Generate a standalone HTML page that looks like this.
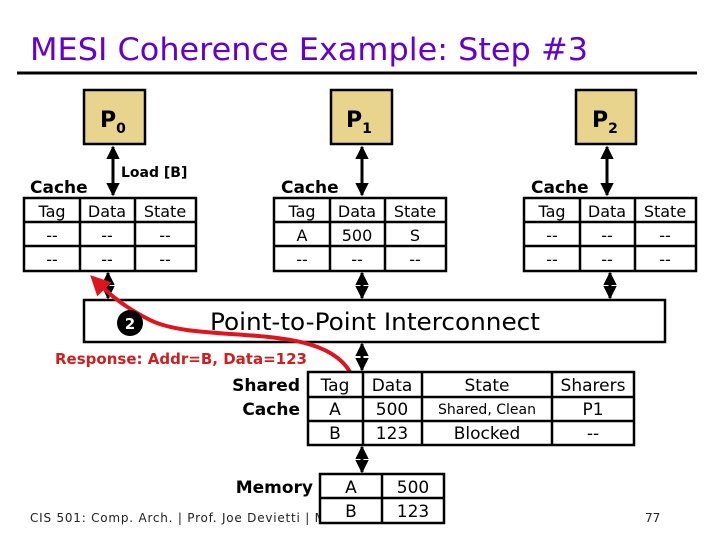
<!DOCTYPE html>
<html><head><meta charset="utf-8"><style>
html,body{margin:0;padding:0;background:#fff;}
svg{display:block;}
text{font-family:"DejaVu Sans","Liberation Sans",sans-serif;}
.b{font-weight:bold;}
</style></head><body>
<svg width="720" height="540" viewBox="0 0 720 540" xmlns="http://www.w3.org/2000/svg">
<defs>
<marker id="ah" viewBox="0 0 10 10" refX="9" refY="5" markerWidth="4.5" markerHeight="4.5" orient="auto-start-reverse"><path d="M0,0 L10,5 L0,10 z" fill="#000"/></marker>
<marker id="rh" viewBox="0 0 10 10" refX="8" refY="5" markerWidth="5" markerHeight="5" orient="auto"><path d="M0,0 L10,5 L0,10 z" fill="#e0141e"/></marker>
</defs>
<text x="30" y="60" font-size="31" fill="#6600cc" font-family="DejaVu Sans Condensed, DejaVu Sans, sans-serif" textLength="558" lengthAdjust="spacingAndGlyphs">MESI Coherence Example: Step #3</text>
<line x1="17" y1="73" x2="697" y2="73" stroke="#000" stroke-width="3"/>
<text x="30" y="522" font-size="12" fill="#222" textLength="295" lengthAdjust="spacing">CIS 501: Comp. Arch.  |  Prof. Joe Devietti  |  M</text>
<text x="645" y="522" font-size="12" fill="#222">77</text>

<!-- processors -->
<g stroke="#000" stroke-width="2.5" fill="#e8d48c">
<rect x="84" y="90" width="61" height="54"/>
<rect x="331" y="90" width="61" height="54"/>
<rect x="576" y="90" width="60" height="54"/>
</g>
<g class="b" font-size="22"><text x="100" y="127">P<tspan font-size="14" dy="6">0</tspan></text>
<text x="346" y="127">P<tspan font-size="14" dy="6">1</tspan></text>
<text x="592" y="127">P<tspan font-size="14" dy="6">2</tspan></text></g>

<g stroke="#000" stroke-width="3" marker-start="url(#ah)" marker-end="url(#ah)">
<line x1="113" y1="147" x2="113" y2="195"/>
<line x1="362" y1="147" x2="362" y2="195"/>
<line x1="607" y1="147" x2="607" y2="195"/>
<line x1="108" y1="273" x2="108" y2="298"/>
<line x1="362" y1="273" x2="362" y2="298"/>
<line x1="610" y1="273" x2="610" y2="298"/>
<line x1="362" y1="344" x2="362" y2="370"/>
<line x1="362" y1="447" x2="362" y2="472"/>
</g>
<text x="121" y="177" class="b" font-size="14">Load [B]</text>

<!-- caches -->
<g font-size="17" class="b"><text x="30" y="193">Cache</text><text x="281" y="193">Cache</text><text x="531" y="193">Cache</text></g>
<g stroke="#000" stroke-width="2.5" fill="none">
<rect x="24" y="198" width="172" height="73"/><line x1="24" y1="222" x2="196" y2="222"/><line x1="24" y1="246" x2="196" y2="246"/><line x1="80" y1="198" x2="80" y2="271"/><line x1="135" y1="198" x2="135" y2="271"/>
<rect x="274" y="198" width="172" height="73"/><line x1="274" y1="222" x2="446" y2="222"/><line x1="274" y1="246" x2="446" y2="246"/><line x1="330" y1="198" x2="330" y2="271"/><line x1="385" y1="198" x2="385" y2="271"/>
<rect x="524" y="198" width="172" height="73"/><line x1="524" y1="222" x2="696" y2="222"/><line x1="524" y1="246" x2="696" y2="246"/><line x1="580" y1="198" x2="580" y2="271"/><line x1="635" y1="198" x2="635" y2="271"/>
</g>
<g font-size="16" text-anchor="middle">
<text x="52" y="217">Tag</text><text x="107" y="217">Data</text><text x="165" y="217">State</text>
<text x="52" y="241">--</text><text x="107" y="241">--</text><text x="165" y="241">--</text>
<text x="52" y="265">--</text><text x="107" y="265">--</text><text x="165" y="265">--</text>
<text x="302" y="217">Tag</text><text x="357" y="217">Data</text><text x="415" y="217">State</text>
<text x="302" y="241">A</text><text x="357" y="241">500</text><text x="415" y="241">S</text>
<text x="302" y="265">--</text><text x="357" y="265">--</text><text x="415" y="265">--</text>
<text x="552" y="217">Tag</text><text x="607" y="217">Data</text><text x="665" y="217">State</text>
<text x="552" y="241">--</text><text x="607" y="241">--</text><text x="665" y="241">--</text>
<text x="552" y="265">--</text><text x="607" y="265">--</text><text x="665" y="265">--</text>
</g>

<!-- interconnect -->
<rect x="84" y="300" width="581" height="42" fill="#fff" stroke="#000" stroke-width="2.5"/>
<text x="210" y="330" font-size="24" font-family="Liberation Sans, sans-serif" textLength="330" lengthAdjust="spacingAndGlyphs">Point-to-Point Interconnect</text>

<!-- red curve -->
<path d="M350,372 C320,320 200,345 150,320 C120,305 105,290 93,278" fill="none" stroke="#e0141e" stroke-width="4" marker-end="url(#rh)"/>
<circle cx="130" cy="323" r="13" fill="#000"/>
<text x="130" y="329" fill="#fff" font-size="15" class="b" text-anchor="middle">2</text>
<text x="55" y="364" fill="#d01e1e" class="b" font-size="15" textLength="252" lengthAdjust="spacingAndGlyphs">Response: Addr=B, Data=123</text>

<!-- shared cache -->
<g class="b" font-size="17" text-anchor="end"><text x="300" y="391">Shared</text><text x="300" y="415">Cache</text><text x="313" y="493">Memory</text></g>
<g stroke="#000" stroke-width="2.5" fill="#fff">
<rect x="308" y="372" width="326" height="73"/>
<rect x="320" y="474" width="124" height="49"/>
</g>
<g stroke="#000" stroke-width="2.5">
<line x1="308" y1="397" x2="634" y2="397"/><line x1="308" y1="421" x2="634" y2="421"/>
<line x1="363" y1="372" x2="363" y2="445"/><line x1="422" y1="372" x2="422" y2="445"/><line x1="552" y1="372" x2="552" y2="445"/>
<line x1="320" y1="498" x2="444" y2="498"/><line x1="382" y1="474" x2="382" y2="523"/>
</g>
<g font-size="17" text-anchor="middle">
<text x="335" y="391">Tag</text><text x="392" y="391">Data</text><text x="487" y="391">State</text><text x="593" y="391">Sharers</text>
<text x="335" y="415">A</text><text x="392" y="415">500</text><text x="487" y="414" font-size="14">Shared, Clean</text><text x="593" y="415">P1</text>
<text x="335" y="439">B</text><text x="392" y="439">123</text><text x="487" y="439">Blocked</text><text x="593" y="439">--</text>
<text x="351" y="493">A</text><text x="413" y="493">500</text>
<text x="351" y="517">B</text><text x="413" y="517">123</text>
</g>
</svg>
</body></html>
